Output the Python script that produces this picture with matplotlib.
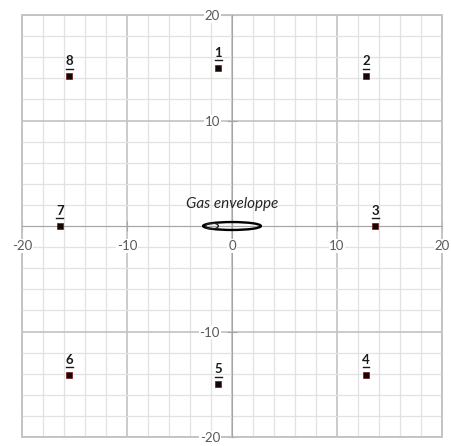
import matplotlib
matplotlib.use("Agg")
import matplotlib.pyplot as plt
import matplotlib.transforms as mtransforms
from matplotlib.ticker import MultipleLocator, FixedLocator, NullFormatter
from matplotlib.patches import Ellipse, Rectangle

# ---- data ----
point_labels = ["1", "2", "3", "4", "5", "6", "7", "8"]
point_x = [-1.3, 12.75, 13.65, 12.75, -1.3, -15.5, -16.4, -15.5]
point_y = [15.0, 14.2, 0.0, -14.1, -15.0, -14.1, 0.0, 14.2]
x_ticks = [-20, -10, 0, 10, 20]
x_tick_labels = ["-20", "-10", "0", "10", "20"]
y_ticks = [-20, -10, 10, 20]
y_tick_labels = ["-20", "-10", "10", "20"]
envelope_label = "Gas enveloppe"
envelope_center = (0.0, 0.0)
envelope_size = (5.5, 0.75)
inner_center = (-1.9, 0.0)
inner_size = (1.2, 0.55)

plt.rcParams['font.family'] = ['Lato', 'DejaVu Sans']

major_c = '#c2c2c2'
minor_c = '#e2e2e2'
text_c = '#595959'

fig = plt.figure(figsize=(4.51, 4.46), dpi=100)
ax = fig.add_axes([22/451, 1-437/446, 420/451, 422/446])
ax.set_xlim(-20, 20)
ax.set_ylim(-20, 20)

ax.xaxis.set_major_locator(FixedLocator(x_ticks))
ax.yaxis.set_major_locator(FixedLocator(y_ticks))
ax.xaxis.set_major_formatter(NullFormatter())
ax.yaxis.set_major_formatter(NullFormatter())
ax.xaxis.set_minor_locator(MultipleLocator(2))
ax.yaxis.set_minor_locator(MultipleLocator(2))

ax.grid(which='major', color=major_c, lw=1.2, zorder=0)
ax.grid(which='minor', color=minor_c, lw=0.9, zorder=0)
ax.set_axisbelow(True)

for s in ['top', 'right']:
    ax.spines[s].set_visible(False)
ax.spines['left'].set_position(('data', 0))
ax.spines['bottom'].set_position(('data', 0))
ax.spines['left'].set_color('#a6a6a6')
ax.spines['bottom'].set_color('#a6a6a6')
ax.add_patch(Rectangle((0, 0), 1, 1, transform=ax.transAxes, fill=False,
                       ec=major_c, lw=1.3, clip_on=False, zorder=1))

ax.tick_params(which='major', direction='inout', length=7, width=0.8,
               color='#a6a6a6')
ax.tick_params(which='minor', length=0)

# tick labels as text with white background, offset from the axes crossing
lbl_box = dict(facecolor='white', edgecolor='none', pad=0.6)
x_lbl_trans = mtransforms.offset_copy(ax.transData, fig=fig, x=0, y=-14, units='dots')
for v, t in zip(x_ticks, x_tick_labels):
    ax.text(v, 0, t, transform=x_lbl_trans, ha='center', va='top',
            fontsize=9.5, color=text_c, bbox=lbl_box, zorder=3, clip_on=False)
y_lbl_trans = mtransforms.offset_copy(ax.transData, fig=fig, x=-12, y=0, units='dots')
for v, t in zip(y_ticks, y_tick_labels):
    ax.text(0, v, t, transform=y_lbl_trans, ha='right', va='center_baseline',
            fontsize=9.5, color=text_c, bbox=lbl_box, zorder=3, clip_on=False)

ax.plot(point_x, point_y, linestyle='none', marker='s', ms=4.5,
        mfc='#1a0505', mec='#6e1515', mew=0.5, zorder=5, clip_on=False)

ul_trans = mtransforms.offset_copy(ax.transData, fig=fig, x=0, y=5.5, units='points')
for lab, px, py in zip(point_labels, point_x, point_y):
    ax.annotate(lab, (px, py), xytext=(0, 6.5),
                textcoords='offset points', ha='center', va='bottom',
                fontsize=9.5, fontweight='bold', color='#1a1a1a', zorder=6)
    ax.plot([px - 0.32, px + 0.32], [py, py], color='#1a1a1a', lw=1.0,
            transform=ul_trans, zorder=6, clip_on=False)

ax.add_patch(Ellipse(envelope_center, envelope_size[0], envelope_size[1],
                     fill=False, ec='black', lw=1.7, zorder=4))
ax.add_patch(Ellipse(inner_center, inner_size[0], inner_size[1],
                     fill=False, ec='#222222', lw=1.0, zorder=4))
ax.text(envelope_center[0], envelope_center[1] + 2.1, envelope_label,
        ha='center', va='center', fontsize=11, style='italic', color='#262626')

fig.savefig('out.png', dpi=100)
